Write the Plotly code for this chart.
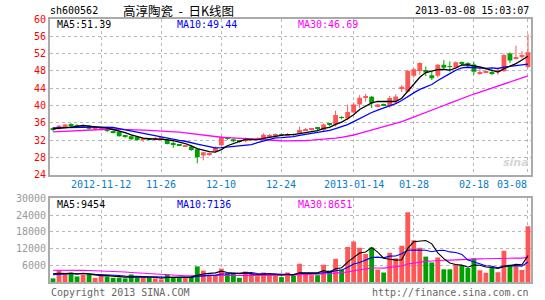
import plotly.graph_objects as go
import pandas as pd

# ---------------- data ----------------
opens = [34.8,34.6,35.0,35.4,35.5,35.1,35.3,34.6,34.4,34.3,
         33.9,33.9,32.9,32.9,32.7,32.2,32.3,32.0,32.3,32.0,
         31.1,30.9,30.6,30.5,29.9,28.4,28.7,29.4,30.8,32.5,
         32.2,31.8,31.7,32.1,32.1,32.3,32.9,32.8,33.3,33.1,
         33.3,33.6,34.2,34.4,34.7,34.3,35.7,35.6,37.2,37.0,
         38.4,40.2,41.9,42.0,39.8,40.2,39.8,41.1,43.8,43.2,
         46.9,48.0,48.2,47.0,46.9,49.4,49.0,48.7,49.9,49.6,
         49.5,47.4,47.7,47.7,47.8,47.9,52.0,50.8,51.3,48.9]
highs = [35.0,35.5,35.7,35.9,35.7,35.6,35.5,35.0,35.0,34.8,
         34.2,34.0,33.2,33.1,32.8,32.5,32.5,32.7,32.6,32.1,
         31.6,31.1,30.9,30.7,30.0,29.3,29.1,30.5,33.0,32.7,
         32.4,32.0,32.6,32.4,32.6,33.6,33.4,33.5,33.5,33.6,
         33.5,35.1,34.8,34.6,34.9,35.8,36.0,38.8,37.5,40.2,
         40.7,42.4,42.7,42.2,40.4,40.4,42.2,42.6,44.7,48.2,
         48.7,50.0,49.0,47.8,49.6,50.5,50.2,50.2,50.2,50.0,
         50.0,48.6,48.6,48.3,48.5,52.0,52.3,53.8,52.6,56.5]
lows = [34.0,34.4,34.9,34.9,35.0,34.9,34.4,34.3,34.2,33.8,
        33.5,32.8,32.5,32.0,31.8,31.6,31.9,31.9,32.1,31.0,
        30.2,30.6,30.4,29.5,26.6,27.3,28.3,29.2,30.6,32.0,
        31.5,31.4,31.5,31.9,32.0,32.2,32.8,32.6,32.9,32.9,
        33.0,33.4,34.1,34.2,34.2,34.1,35.2,35.1,36.8,36.6,
        38.2,39.4,40.9,39.4,39.6,39.9,39.5,40.5,43.1,43.0,
        46.4,47.1,46.8,45.9,46.5,48.4,47.8,48.5,49.2,48.9,
        47.1,47.1,47.5,47.0,47.1,47.8,49.8,50.6,50.8,48.7]
closes = [34.3,35.3,35.6,35.3,35.2,35.4,34.6,34.8,34.8,34.2,
          33.8,32.9,32.8,32.2,32.0,32.3,32.2,32.5,32.4,31.1,
          31.0,30.8,30.7,29.7,28.0,29.2,28.9,30.3,32.6,32.4,
          31.7,31.7,32.4,32.2,32.4,33.2,33.1,33.4,33.2,33.3,
          33.2,34.3,34.4,34.5,34.6,35.6,35.6,37.8,37.1,38.5,
          40.2,41.8,42.0,40.5,40.2,40.1,41.7,42.1,44.3,48.0,
          48.4,49.8,47.6,46.3,49.4,48.7,48.9,50.0,49.8,49.5,
          47.8,47.6,47.9,47.4,47.9,51.7,50.4,51.0,51.5,52.3]
volumes = [1300,4200,3300,3400,2000,2700,2700,1500,2450,2000,
           1500,1500,1300,2700,1500,1500,1500,1300,950,2700,
           1750,1500,1500,1750,5600,4100,2450,2450,4800,3150,
           3150,1500,3750,2900,2100,3400,2700,2700,1750,3400,
           2200,6550,2700,2450,2450,6200,4100,8300,4450,12500,
           14500,12300,10000,12400,4450,3400,10500,8500,13000,25000,
           15000,12300,9100,7000,8800,4550,4550,6400,6000,5000,
           8500,4200,3300,5000,3500,11200,6200,5600,4300,20000]
# estimated history before the visible window (needed for the moving averages)
prior_closes = [32.8,33.2,33.0,32.7,33.1,33.3,32.9,33.0,33.2,32.8,
                33.5,33.8,34.2,33.9,33.6,34.0,34.3,33.8,34.1,33.8,
                34.8,35.2,35.0,35.3,34.7,34.9,34.5,34.8,34.5]
prior_volumes = [3200,3900,3300,3600,3100,3800,3400,3700,3500,3500,
                 6800,6100,7200,5900,6600,6300,7000,6200,6400,6500,
                 2600,2100,2400,2200,2200,3100,3800,2900,3400]

tick_idx = [8, 18, 28, 38, 50, 60, 70, 79]
tick_labels = ["2012-11-12", "11-26", "12-10", "12-24", "2013-01-14", "01-28", "02-18", "03-08"]
price_ticks = [24, 28, 32, 36, 40, 44, 48, 52, 56, 60]
vol_ticks = [6000, 12000, 18000, 24000, 30000]
vol_tick_labels = ["6000", "12000", "18000", "24000", "30000"]
stock_code = "sh600562"
chart_title = "高淳陶瓷 - 日K线图"
timestamp = "2013-03-08 15:03:07"
price_ma_labels = ["MA5:51.39", "MA10:49.44", "MA30:46.69"]
vol_ma_labels = ["MA5:9454", "MA10:7136", "MA30:8651"]
copyright_text = "Copyright 2013 SINA.COM"
url_text = "http://finance.sina.com.cn"

# ---------------- derived ----------------
n = len(closes)
idx = list(range(n))
c_all = pd.Series(prior_closes + closes)
v_all = pd.Series(prior_volumes + volumes)
p_ma = {w: c_all.rolling(w).mean().tolist()[-n:] for w in (5, 10, 30)}
v_ma = {w: v_all.rolling(w).mean().tolist()[-n:] for w in (5, 10, 30)}

RED = "#ff5656"
GREEN = "#00a000"
MA_COLORS = {5: "#000000", 10: "#0000ff", 30: "#ff00ff"}
up = [c > o for o, c in zip(opens, closes)]
bar_colors = [RED if u else GREEN for u in up]
MIN_BODY = 0.2
body_base = [min(o, c) for o, c in zip(opens, closes)]
body_len = [max(abs(c - o), MIN_BODY) for o, c in zip(opens, closes)]

MONO = "DejaVu Sans Mono"
L, R, T, B = 50, 14, 19, 14
W, H = 545, 300
PW, PH = W - L - R, H - T - B


def px2x(px):
    return (px - L) / PW


def px2y(py):
    return (H - B - py) / PH


fig = go.Figure()
# wicks
for flag, col in ((True, RED), (False, GREEN)):
    wx, wy = [], []
    for i in idx:
        if up[i] == flag:
            wx += [i, i, None]
            wy += [lows[i], highs[i], None]
    fig.add_trace(go.Scatter(x=wx, y=wy, mode="lines", line=dict(color=col, width=1),
                             xaxis="x", yaxis="y", hoverinfo="skip"))
# bodies
fig.add_trace(go.Bar(x=idx, y=body_len, base=body_base,
                     marker=dict(color=bar_colors, line=dict(width=0)),
                     xaxis="x", yaxis="y", hoverinfo="skip"))
for w in (30, 10, 5):
    fig.add_trace(go.Scatter(x=idx, y=p_ma[w], mode="lines",
                             line=dict(color=MA_COLORS[w], width=1.3),
                             xaxis="x", yaxis="y", hoverinfo="skip"))

fig.add_trace(go.Bar(x=idx, y=volumes, marker=dict(color=bar_colors, line=dict(width=0)),
                     xaxis="x2", yaxis="y2", hoverinfo="skip"))
for w in (30, 10, 5):
    fig.add_trace(go.Scatter(x=idx, y=v_ma[w], mode="lines",
                             line=dict(color=MA_COLORS[w], width=1.1),
                             xaxis="x2", yaxis="y2", hoverinfo="skip"))

axis_common = dict(showline=True, mirror=True, linecolor="#aaaaaa", linewidth=2,
                   zeroline=False, ticks="", showgrid=True, gridcolor="#b8b8b8",
                   griddash="dot", gridwidth=1)

fig.update_layout(
    width=W, height=H, margin=dict(l=L, r=R, t=T, b=B),
    paper_bgcolor="white", plot_bgcolor="white", showlegend=False,
    hovermode=False, bargap=0.2,
    xaxis=dict(domain=[0, 1], range=[-0.5, n - 0.5], anchor="y",
               tickvals=tick_idx, showticklabels=False, **axis_common),
    yaxis=dict(domain=[px2y(177), 1], range=[24, 60], anchor="x",
               tickvals=price_ticks, tickfont=dict(family=MONO, size=10, color="#ff0000"),
               **axis_common),
    xaxis2=dict(domain=[0, 1], range=[-0.5, n - 0.5], anchor="y2",
                tickvals=tick_idx, showticklabels=False, **axis_common),
    yaxis2=dict(domain=[0, px2y(201)], range=[0, 30000], anchor="x2",
                tickvals=vol_ticks, ticktext=vol_tick_labels,
                tickfont=dict(family=MONO, size=10, color="#999999"),
                **axis_common),
)

ann = []


def text(x, y, s, color="#000000", size=10, family=MONO, xanchor="left", xref="paper"):
    ann.append(dict(x=x, y=y, xref=xref, yref="paper", text=s, showarrow=False,
                    xanchor=xanchor, yanchor="middle",
                    font=dict(family=family, size=size, color=color)))


text(px2x(48), px2y(10), stock_code)
text(px2x(178), px2y(10), chart_title.replace(" - ", "\u00a0\u00a0-\u00a0\u00a0"),
     size=12.5, family="Noto Sans CJK SC", xanchor="center")
text(px2x(531), px2y(10), timestamp, xanchor="right")

ma_x = [55, 175, 296]
for lbl, xp, w in zip(price_ma_labels, ma_x, (5, 10, 30)):
    text(px2x(xp), px2y(25), lbl, color=MA_COLORS[w])
for lbl, xp, w in zip(vol_ma_labels, ma_x, (5, 10, 30)):
    text(px2x(xp), px2y(207), lbl, color=MA_COLORS[w])

for i, lbl in zip(tick_idx, tick_labels):
    if i == tick_idx[-1]:
        text(i + 0.1, px2y(187), lbl, color="#0a7cc8", xanchor="right", xref="x")
    else:
        text(i, px2y(187), lbl, color="#0a7cc8", xanchor="center", xref="x")

text(px2x(49), px2y(296.5), copyright_text, color="#666666")
text(px2x(531), px2y(296.5), url_text, color="#666666", xanchor="right")
text(px2x(516), px2y(165), "<i><b>sina</b></i>", color="#d6d6d6", size=11,
     family="DejaVu Sans", xanchor="center")

fig.update_layout(annotations=ann)
fig.write_html("out.html", config={"displayModeBar": False})
